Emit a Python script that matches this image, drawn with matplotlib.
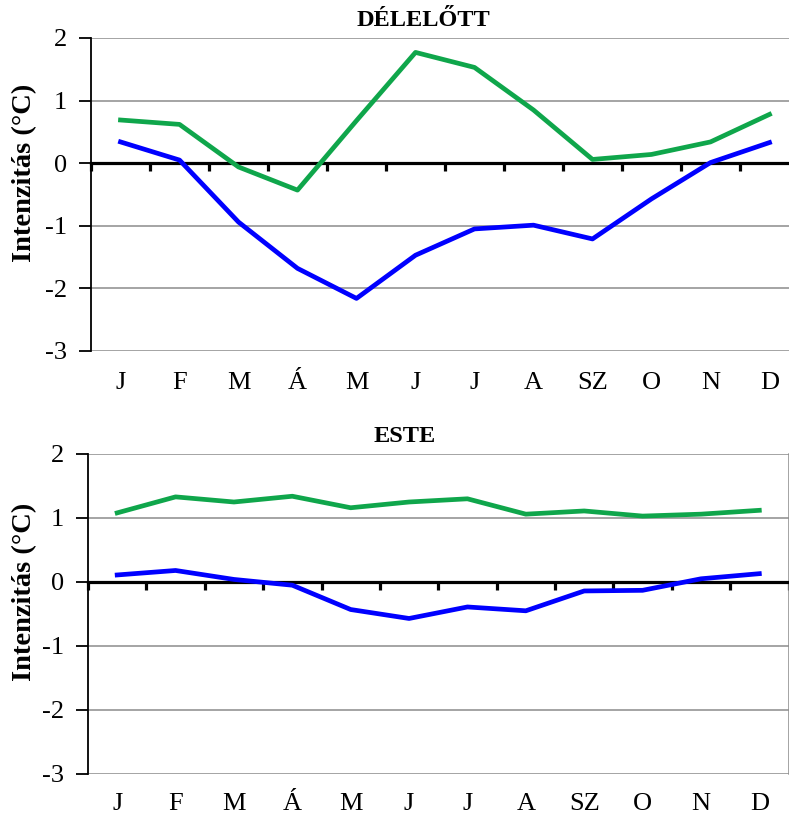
import numpy as np
import matplotlib.pyplot as plt

plt.rcParams['font.family'] = ['Liberation Serif', 'DejaVu Serif']
plt.rcParams['axes.unicode_minus'] = False

months = ["J", "F", "M", "Á", "M", "J", "J", "A", "SZ", "O", "N", "D"]

# délelőtti intenzitás
de_green = [0.69, 0.62, -0.06, -0.43, 0.68, 1.77, 1.53, 0.85, 0.06, 0.14, 0.34, 0.78]
de_blue = [0.34, 0.05, -0.94, -1.68, -2.16, -1.47, -1.05, -0.99, -1.21, -0.57, 0.01, 0.33]

# esti intenzitás
es_green = [1.08, 1.33, 1.25, 1.34, 1.16, 1.25, 1.30, 1.06, 1.11, 1.03, 1.06, 1.12]
es_blue = [0.11, 0.18, 0.04, -0.05, -0.43, -0.57, -0.39, -0.45, -0.14, -0.13, 0.05, 0.13]

GREEN = "#0fa64b"
BLUE = "#0000ff"
W, H = 789, 814


def panel(fig, rect_px, green, blue, title, title_x, right_spine, month_pad, label_y):
    x0, y_top, x1, y_bot = rect_px
    ax = fig.add_axes([x0 / W, 1 - y_bot / H, (x1 - x0) / W, (y_bot - y_top) / H])
    x = np.arange(len(months))

    ax.set_xlim(-0.5, len(months) - 0.5)
    ax.set_ylim(-3, 2)
    ax.set_yticks(range(-3, 3))
    for v in range(-3, 3):
        if v != 0:
            ax.axhline(v, color="#8c8c8c", lw=1.1, zorder=1)

    ax.plot(x, green, color=GREEN, lw=3.4, zorder=4)
    ax.plot(x, blue, color=BLUE, lw=3.4, zorder=4)

    # zero axis with category boundary ticks
    ax.spines["bottom"].set_position(("data", 0))
    ax.spines["bottom"].set_linewidth(2.3)
    ax.spines["bottom"].set_zorder(3)
    ax.set_xticks(np.arange(-0.5, len(months), 1.0))
    ax.tick_params(axis="x", direction="out", length=6, width=2.3, labelbottom=False)

    ax.spines["top"].set_visible(False)
    ax.spines["right"].set_visible(right_spine)
    ax.spines["right"].set_color("#8c8c8c")
    ax.spines["right"].set_linewidth(1.1)
    ax.spines["left"].set_linewidth(1.3)
    ax.tick_params(axis="y", direction="out", length=9, width=1.3, pad=8.5, labelsize=19)

    # month labels under the plot area
    sec = ax.secondary_xaxis("bottom")
    sec.spines["bottom"].set_visible(False)
    sec.set_xticks(x)
    sec.set_xticklabels(months)
    sec.tick_params(length=0, pad=month_pad, labelsize=19)

    ax.set_ylabel("Intenzitás (°C)", fontsize=20.5, fontweight="bold")
    ax.yaxis.set_label_coords((37 - x0) / (x1 - x0), (y_bot - label_y) / (y_bot - y_top))
    fig.text(title_x / W, 1 - (y_top - 17) / H, title, ha="center", va="center",
             fontsize=17.5, fontweight="bold")
    return ax


fig = plt.figure(figsize=(W / 100, H / 100), dpi=100)

panel(fig, (91, 38, 799, 351), de_green, de_blue, "DÉLELŐTT", 423, False, 15, 173)
panel(fig, (88, 454, 788.5, 774), es_green, es_blue, "ESTE", 405, True, 14, 592)

fig.savefig("out.png", dpi=100)
